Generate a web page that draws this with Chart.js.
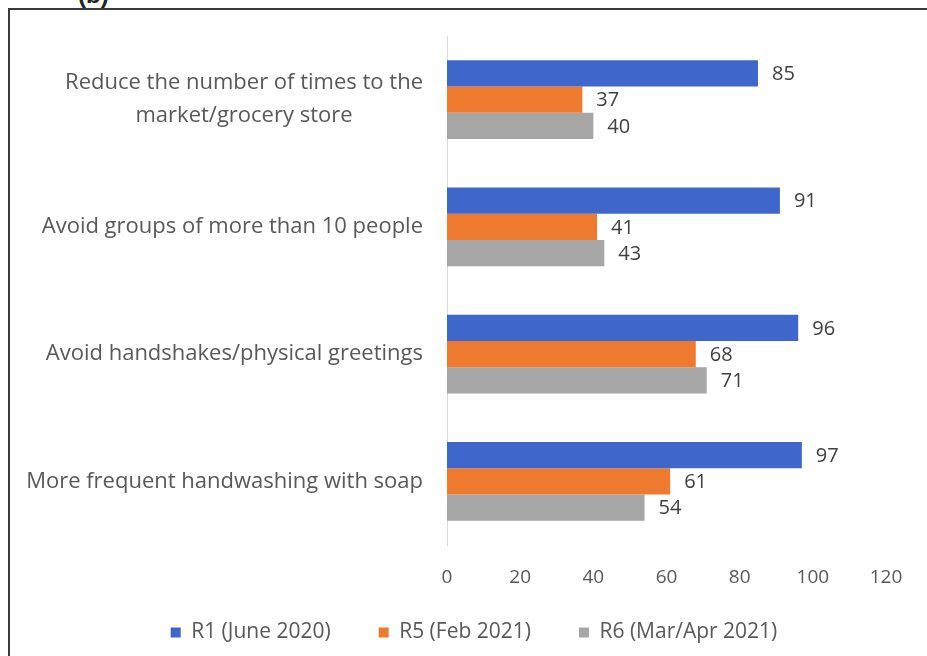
<!DOCTYPE html>
<html>
<head>
<meta charset="utf-8">
<script src="https://cdn.jsdelivr.net/npm/chart.js@4"></script>
<style>
  html, body { margin: 0; padding: 0; background: #fff; overflow: hidden; }
  #frame {
    position: absolute; left: 8px; top: 8px; width: 1000px; height: 700px;
    border-left: 2px solid #3a3a3a; border-top: 2px solid #3a3a3a;
  }
  #tag {
    position: absolute; left: 78px; top: -19px;
    font: bold 24px "Liberation Sans", Arial, sans-serif; color: #222;
  }
  #wrap { position: absolute; left: 0; top: 0; width: 927px; height: 656px; }
</style>
</head>
<body>
<div id="frame"></div>
<div id="tag">(b)</div>
<div id="wrap"><canvas id="chart"></canvas></div>
<script>
const categories = [
  ["Reduce the number of times to the", "market/grocery store"],
  ["Avoid groups of more than 10 people"],
  ["Avoid handshakes/physical greetings"],
  ["More frequent handwashing with soap"]
];
const seriesNames = ["R1 (June 2020)", "R5 (Feb 2021)", "R6 (Mar/Apr 2021)"];
const r1 = [85, 91, 96, 97];
const r5 = [37, 41, 68, 61];
const r6 = [40, 43, 71, 54];
const colors = ["#3F67CB", "#EE7A2F", "#A6A6A6"];

const FONT = "'Open Sans', sans-serif";

// category labels on the left, multi-line ones centred on each other
const catLabels = {
  id: "catLabels",
  afterDraw(chart) {
    const ctx = chart.ctx;
    const y = chart.scales.y;
    const right = chart.chartArea.left - 24;
    ctx.save();
    ctx.font = "22px " + FONT;
    ctx.fillStyle = "#595959";
    ctx.textAlign = "center";
    ctx.textBaseline = "middle";
    categories.forEach((lines, i) => {
      const w = Math.max(...lines.map(l => ctx.measureText(l).width));
      const cx = right - w / 2;
      const cy = y.getPixelForValue(i);
      const lh = 33;
      lines.forEach((l, j) => {
        ctx.fillText(l, cx, cy + (j - (lines.length - 1) / 2) * lh);
      });
    });
    ctx.restore();
  }
};

// x tick labels, drawn from the scale's own ticks (native ones get clipped
// because the axis box is squeezed to leave room for the legend)
const xTickLabels = {
  id: "xTickLabels",
  afterDraw(chart) {
    const ctx = chart.ctx;
    const x = chart.scales.x;
    ctx.save();
    ctx.font = "19px " + FONT;
    ctx.fillStyle = "#595959";
    ctx.textAlign = "center";
    ctx.textBaseline = "middle";
    x.ticks.forEach(t => {
      ctx.fillText(String(t.value), x.getPixelForValue(t.value), chart.chartArea.bottom + 33);
    });
    ctx.restore();
  }
};

// value labels at the end of each bar
const valueLabels = {
  id: "valueLabels",
  afterDatasetsDraw(chart) {
    const ctx = chart.ctx;
    ctx.save();
    ctx.font = "20px " + FONT;
    ctx.fillStyle = "#404040";
    ctx.textAlign = "left";
    ctx.textBaseline = "middle";
    chart.data.datasets.forEach((ds, di) => {
      chart.getDatasetMeta(di).data.forEach((bar, i) => {
        ctx.fillText(ds.data[i], bar.x + 14, bar.y + 1);
      });
    });
    ctx.restore();
  }
};

new Chart(document.getElementById("chart"), {
  type: "bar",
  data: {
    labels: categories,
    datasets: [
      { label: seriesNames[0], data: r1, backgroundColor: colors[0] },
      { label: seriesNames[1], data: r5, backgroundColor: colors[1] },
      { label: seriesNames[2], data: r6, backgroundColor: colors[2] }
    ]
  },
  options: {
    indexAxis: "y",
    responsive: true,
    maintainAspectRatio: false,
    animation: false,
    datasets: { bar: { barPercentage: 1, categoryPercentage: 0.62 } },
    layout: { padding: { left: 62, top: 36, right: 41, bottom: 3 } },
    scales: {
      x: {
        min: 0, max: 120,
        ticks: { stepSize: 20, display: false },
        grid: { display: false },
        border: { display: false },
        afterFit(scale) { scale.height = 29; }
      },
      y: {
        ticks: { display: false },
        grid: { display: false },
        border: { display: true, color: "#D9D9D9", width: 1 },
        afterFit(scale) { scale.width = 385; }
      }
    },
    plugins: {
      legend: {
        position: "bottom",
        labels: {
          boxWidth: 10, boxHeight: 10, padding: 48,
          color: "#595959", font: { family: FONT, size: 21 }
        }
      },
      tooltip: { enabled: false }
    }
  },
  plugins: [catLabels, xTickLabels, valueLabels]
});
</script>
</body>
</html>
